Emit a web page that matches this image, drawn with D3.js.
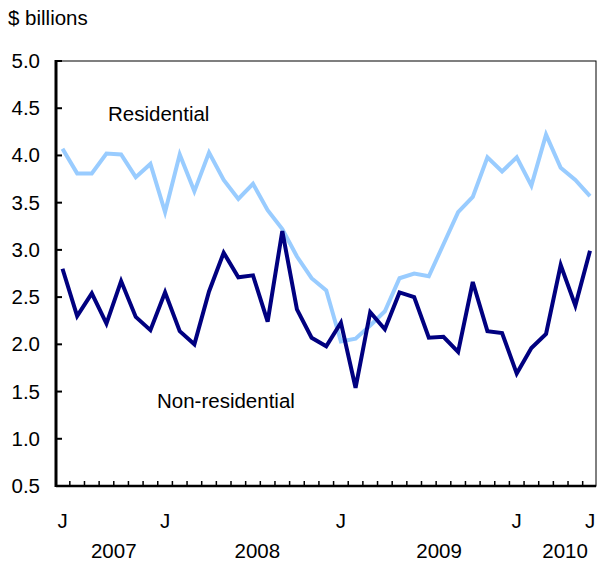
<!DOCTYPE html>
<html>
<head>
<meta charset="utf-8">
<script src="https://cdn.jsdelivr.net/npm/d3@7"></script>
<style>
  body { margin: 0; background: #fff; }
  text { font-family: Arial, "Liberation Sans", sans-serif; fill: #000; }
</style>
</head>
<body>
<svg id="chart" width="599" height="561"></svg>
<script>
// monthly, June 2007 to June 2010
const months = d3.range(37).map(i => new Date(2007, 5 + i, 1));
const residential = [4.07, 3.81, 3.81, 4.02, 4.01, 3.77, 3.91, 3.40, 4.01, 3.62,
  4.03, 3.74, 3.54, 3.70, 3.42, 3.22, 2.93, 2.70, 2.57, 2.03,
  2.06, 2.20, 2.35, 2.70, 2.75, 2.72, 3.06, 3.40, 3.56, 3.98,
  3.83, 3.98, 3.68, 4.22, 3.87, 3.74, 3.57];
const nonResidential = [2.80, 2.30, 2.54, 2.22, 2.67, 2.29, 2.15, 2.55, 2.14, 2.00,
  2.56, 2.97, 2.71, 2.73, 2.24, 3.20, 2.37, 2.07, 1.98, 2.23,
  1.54, 2.34, 2.16, 2.55, 2.50, 2.07, 2.08, 1.92, 2.66, 2.14,
  2.12, 1.69, 1.96, 2.11, 2.84, 2.41, 2.99];
const yTicks = [0.5, 1.0, 1.5, 2.0, 2.5, 3.0, 3.5, 4.0, 4.5, 5.0];
const monthLabels = [0, 7, 19, 31, 36];          // indices labelled "J"
const yearLabels = ["2007", "2008", "2009", "2010"];
const yearPos = [3.5, 13.3, 25.7, 34.3];         // month index under each year label

const svg = d3.select("#chart");
const plotLeft = 56, plotRight = 596, plotTop = 61, plotBottom = 486;
const fs = 20.5;

const x = d3.scalePoint().domain(d3.range(months.length)).range([62.5, 590]);
const y = d3.scaleLinear().domain([0.5, 5]).range([plotBottom, plotTop]);
const step = x.step();

// frame
svg.append("rect")
  .attr("x", plotLeft).attr("y", plotTop)
  .attr("width", plotRight - plotLeft).attr("height", plotBottom - plotTop)
  .attr("fill", "none").attr("stroke", "#000").attr("stroke-width", 1);
svg.append("line")
  .attr("x1", plotLeft).attr("x2", plotLeft).attr("y1", plotTop - 1).attr("y2", plotBottom + 1)
  .attr("stroke", "#000").attr("stroke-width", 3);
svg.append("line")
  .attr("x1", plotLeft).attr("x2", plotRight).attr("y1", plotBottom).attr("y2", plotBottom)
  .attr("stroke", "#000").attr("stroke-width", 2.5);

// y ticks (inward) and labels
svg.selectAll(".ytick").data(yTicks).enter().append("line")
  .attr("x1", plotLeft).attr("x2", plotLeft + 6)
  .attr("y1", d => y(d)).attr("y2", d => y(d))
  .attr("stroke", "#000").attr("stroke-width", 2);
svg.selectAll(".ylab").data(yTicks).enter().append("text")
  .attr("x", 40).attr("y", d => y(d) + 7)
  .attr("text-anchor", "end").attr("font-size", fs)
  .text(d => d.toFixed(1));

svg.append("text").attr("x", 8).attr("y", 25).attr("font-size", fs).text("$ billions");

// x ticks at month boundaries, pointing up
const bounds = d3.range(1, months.length).map(i => x(i) - step / 2);
svg.selectAll(".xtick").data(bounds).enter().append("line")
  .attr("x1", d => d).attr("x2", d => d)
  .attr("y1", plotBottom).attr("y2", plotBottom - 5)
  .attr("stroke", "#000").attr("stroke-width", 1.5);

svg.selectAll(".mlab").data(monthLabels).enter().append("text")
  .attr("x", d => x(d)).attr("y", 528)
  .attr("text-anchor", "middle").attr("font-size", fs)
  .text("J");
svg.selectAll(".yrlab").data(yearLabels).enter().append("text")
  .attr("x", (d, i) => x(0) + yearPos[i] * step).attr("y", 558)
  .attr("text-anchor", "middle").attr("font-size", fs)
  .text(d => d);

// lines
const line = d3.line().x((d, i) => x(i)).y(d => y(d));
svg.append("path").datum(residential)
  .attr("d", line).attr("fill", "none")
  .attr("stroke", "#99ccff").attr("stroke-width", 4).attr("stroke-linejoin", "miter");
svg.append("path").datum(nonResidential)
  .attr("d", line).attr("fill", "none")
  .attr("stroke", "#000080").attr("stroke-width", 4).attr("stroke-linejoin", "miter");

// series labels
svg.append("text").attr("x", 108).attr("y", 121).attr("font-size", fs).text("Residential");
svg.append("text").attr("x", 157).attr("y", 408).attr("font-size", fs).text("Non-residential");
</script>
</body>
</html>
